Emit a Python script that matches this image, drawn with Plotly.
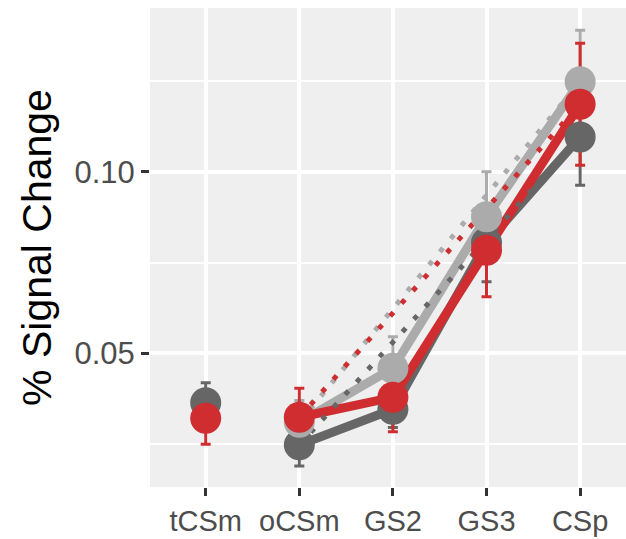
import plotly.graph_objects as go

categories = ["tCSm", "oCSm", "GS2", "GS3", "CSp"]

dark_vals = [0.0364, 0.0248, 0.0346, 0.0805, 0.1096]
dark_err = [0.0055, 0.0058, 0.0050, 0.0108, 0.0133]

light_vals = [None, 0.0310, 0.0459, 0.0876, 0.1248]
light_err = [None, 0.0060, 0.0087, 0.0124, 0.0142]

red_vals = [0.0321, 0.0324, 0.0379, 0.0784, 0.1186]
red_err = [0.0071, 0.0080, 0.0095, 0.0128, 0.0168]

y_ticks = [0.05, 0.10]
y_ticktext = ["0.05", "0.10"]

series = [
    ("dark", dark_vals, dark_err, "#666666"),
    ("light", light_vals, light_err, "#ababab"),
    ("red", red_vals, red_err, "#cf2d2f"),
]


def present(vals, other):
    return [o for o, v in zip(other, vals) if v is not None]


fig = go.Figure()

# error bars (drawn first, beneath everything)
for name, vals, err, col in series:
    fig.add_trace(go.Scatter(
        x=present(vals, categories), y=present(vals, vals), mode="markers",
        marker=dict(color=col, size=1, opacity=0),
        error_y=dict(type="data", array=present(vals, err), color=col, thickness=3, width=5),
        showlegend=False, hoverinfo="skip"))

# solid lines (oCSm .. CSp)
for name, vals, err, col in series:
    fig.add_trace(go.Scatter(
        x=categories[1:], y=vals[1:], mode="lines",
        line=dict(color=col, width=9), showlegend=False, hoverinfo="skip"))

# dotted lines: straight from oCSm to CSp
for name, vals, err, col in series:
    fig.add_trace(go.Scatter(
        x=[categories[1], categories[4]], y=[vals[1], vals[4]], mode="lines",
        line=dict(color=col, width=5, dash="5px,12px"),
        showlegend=False, hoverinfo="skip"))

# points
for name, vals, err, col in series:
    fig.add_trace(go.Scatter(
        x=present(vals, categories), y=present(vals, vals), mode="markers",
        marker=dict(color=col, size=31, line=dict(width=0)),
        showlegend=False))

fig.update_layout(
    width=626, height=539,
    margin=dict(l=150, r=0, t=8, b=52),
    paper_bgcolor="white", plot_bgcolor="#efefef",
    font=dict(family="Liberation Sans, Arial, sans-serif"),
)
fig.update_xaxes(
    type="category", categoryorder="array", categoryarray=categories,
    range=[-0.595, 4.49],
    showgrid=True, gridcolor="white", gridwidth=3.5,
    zeroline=False, showline=False,
    ticks="outside", ticklen=8, tickwidth=3, tickcolor="#333333",
    tickfont=dict(size=29, color="#4d4d4d"),
)
fig.update_yaxes(
    range=[0.0132, 0.1451],
    tickvals=y_ticks, ticktext=y_ticktext,
    showgrid=True, gridcolor="white", gridwidth=3.5,
    minor=dict(tickvals=[0.025, 0.075, 0.125], showgrid=True, gridcolor="white", gridwidth=2),
    zeroline=False, showline=False,
    ticks="outside", ticklen=8, tickwidth=3, tickcolor="#333333",
    tickfont=dict(size=31, color="#4d4d4d"),
    title=dict(text="% Signal Change", font=dict(size=41, color="black"), standoff=10),
)

fig.write_html("out.html")
